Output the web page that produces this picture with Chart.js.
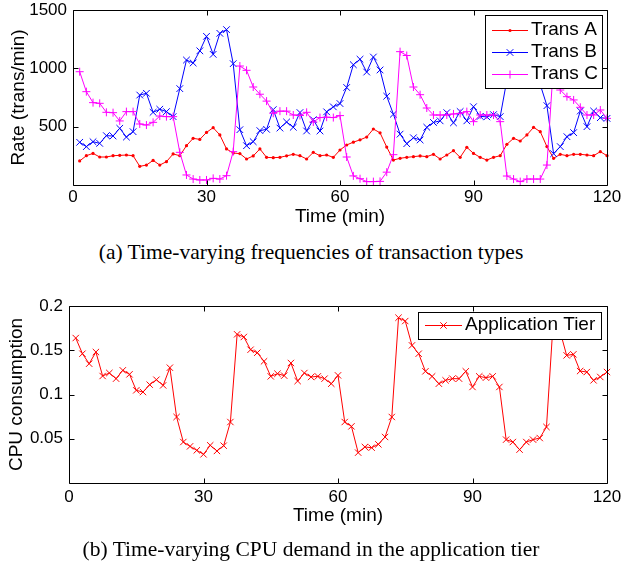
<!DOCTYPE html>
<html><head><meta charset="utf-8">
<script src="https://cdn.jsdelivr.net/npm/chart.js@4/dist/chart.umd.min.js"></script>
<style>
body{margin:0;background:#fff;width:622px;height:568px;position:relative;overflow:hidden;}
canvas{position:absolute;left:0;}
#c1{top:0;}
#c2{top:290px;}
.cap{position:absolute;left:0;width:622px;text-align:center;font-family:"Liberation Serif","Times New Roman",serif;font-size:21.5px;color:#000;line-height:24px;}
</style></head>
<body>
<canvas id="c1" width="622" height="230"></canvas>
<canvas id="c2" width="622" height="250"></canvas>
<div class="cap" id="capA" style="top:240px"></div>
<div class="cap" id="capB" style="top:537px"></div>
<script>
// ---------- data ----------
const timeMin = [1.5,3,4.5,6,7.5,9,10.5,12,13.5,15,16.5,18,19.5,21,22.5,24,25.5,27,28.5,30,31.5,33,34.5,36,37.5,39,40.5,42,43.5,45,46.5,48,49.5,51,52.5,54,55.5,57,58.5,60,61.5,63,64.5,66,67.5,69,70.5,72,73.5,75,76.5,78,79.5,81,82.5,84,85.5,87,88.5,90,91.5,93,94.5,96,97.5,99,100.5,102,103.5,105,106.5,108,109.5,111,112.5,114,115.5,117,118.5,120];
const transA = [206,251,271,240,240,251,254,257,251,160,171,211,171,200,266,251,337,400,391,451,491,429,309,274,269,223,249,309,237,234,237,250,263,251,223,280,251,257,237,300,343,367,387,411,480,447,325,214,229,237,243,249,243,263,223,257,294,237,323,271,237,214,237,251,349,400,377,429,494,457,329,229,263,251,263,263,257,251,286,251];
const transB = [366,329,371,357,423,420,486,411,457,771,786,623,649,629,586,826,1071,1046,1150,1274,1120,1300,1332,1040,474,337,371,466,477,646,488,540,495,621,463,560,463,627,670,698,836,1031,1078,968,1097,986,761,607,436,354,405,386,495,536,550,620,533,630,550,671,588,584,603,586,900,1100,1050,1180,1080,860,680,268,329,414,449,634,500,634,577,571];
const transC = [971,800,706,700,623,620,549,629,629,523,514,537,591,586,586,280,86,51,43,43,57,51,80,286,1020,983,840,778,719,615,633,633,600,596,623,540,578,581,578,595,240,78,54,29,29,31,110,260,1143,1110,840,774,660,600,600,600,609,614,629,543,600,600,600,543,77,51,29,51,51,51,171,1050,814,757,729,666,600,600,643,571];
const appTier = [0.1638,0.1461,0.1348,0.1480,0.1209,0.1243,0.1179,0.1273,0.1228,0.1047,0.1028,0.1111,0.1167,0.1103,0.1303,0.0746,0.0463,0.0414,0.0369,0.0324,0.0426,0.0362,0.0422,0.0689,0.1680,0.1650,0.1506,0.1472,0.1375,0.1205,0.1235,0.1213,0.1356,0.1152,0.1243,0.1198,0.1205,0.1179,0.1122,0.1216,0.0689,0.0640,0.0343,0.0407,0.0399,0.0437,0.0520,0.0746,0.1868,0.1830,0.1555,0.1461,0.1262,0.1205,0.1122,0.1160,0.1179,0.1179,0.1262,0.1085,0.1205,0.1190,0.1205,0.1085,0.0490,0.0463,0.0377,0.0463,0.0490,0.0508,0.0633,0.182,0.172,0.1442,0.1454,0.1265,0.1254,0.1160,0.1198,0.1254];
const seriesNamesA = ['Trans A','Trans B','Trans C'];
const seriesNameB = 'Application Tier';
const xTicks = [0,30,60,90,120];
const xTickLabels = ['0','30','60','90','120'];
const yTicksA = [500,1000,1500];
const yTickLabelsA = ['500','1000','1500'];
const yTicksB = [0.05,0.1,0.15,0.2];
const yTickLabelsB = ['0.05','0.1','0.15','0.2'];
const xTitle = 'Time (min)';
const yTitleA = 'Rate (trans/min)';
const yTitleB = 'CPU consumption';
const captionA = '(a) Time-varying frequencies of transaction types';
const captionB = '(b) Time-varying CPU demand in the application tier';

document.getElementById('capA').textContent = captionA;
document.getElementById('capB').textContent = captionB;

const SANS = '"Liberation Sans", Arial, Helvetica, sans-serif';
const pairs = arr => timeMin.map((t, i) => ({x: t, y: arr[i]}));
const labelFrom = (vals, labels) => (v) => { const i = vals.findIndex(w => Math.abs(w - v) < 1e-9); return i >= 0 ? labels[i] : ''; };

const matlabFrame = {
  id: 'matlabFrame',
  afterDraw(chart, args, opts) {
    const {ctx, chartArea: a, scales: {x, y}} = chart;
    ctx.save();
    ctx.strokeStyle = '#000'; ctx.lineWidth = 1;
    const L = Math.round(a.left) + 0.5, R = Math.round(a.right) + 0.5,
          T = Math.round(a.top) + 0.5, B = Math.round(a.bottom) + 0.5;
    ctx.beginPath();
    ctx.rect(L, T, R - L, B - T);
    const tl = 5;
    x.ticks.forEach(t => {
      const px = Math.round(x.getPixelForValue(t.value)) + 0.5;
      ctx.moveTo(px, B); ctx.lineTo(px, B - tl);
      ctx.moveTo(px, T); ctx.lineTo(px, T + tl);
    });
    y.ticks.forEach(t => {
      const py = Math.round(y.getPixelForValue(t.value)) + 0.5;
      ctx.moveTo(L, py); ctx.lineTo(L + tl, py);
      ctx.moveTo(R, py); ctx.lineTo(R - tl, py);
    });
    ctx.stroke();
    const lg = opts.box;
    if (lg) {
      ctx.fillStyle = '#fff';
      ctx.fillRect(lg.x, lg.y, lg.w, lg.h);
      ctx.strokeStyle = '#000';
      ctx.strokeRect(lg.x + 0.5, lg.y + 0.5, lg.w, lg.h);
      ctx.font = lg.font;
      ctx.textBaseline = 'middle';
      ctx.textAlign = 'left';
      chart.data.datasets.forEach((ds, i) => {
        const yy = lg.row0 + i * lg.rowH;
        ctx.strokeStyle = ds.borderColor; ctx.lineWidth = ds.borderWidth;
        ctx.beginPath(); ctx.moveTo(lg.x0, yy + 0.5); ctx.lineTo(lg.x1, yy + 0.5); ctx.stroke();
        ctx.fillStyle = ds.pointBackgroundColor;
        ctx.strokeStyle = ds.pointBorderColor;
        ctx.lineWidth = ds.pointBorderWidth || 1;
        Chart.helpers.drawPoint(ctx, {pointStyle: ds.pointStyle, radius: ds.pointRadius, rotation: 0, borderWidth: ds.pointBorderWidth}, (lg.x0 + lg.x1) / 2, yy + 0.5);
        ctx.fillStyle = '#000';
        ctx.fillText(ds.label, lg.tx, yy);
      });
    }
    ctx.restore();
  }
};

function xScale(height, tickPad, titlePadBottom) {
  return {
    type: 'linear', min: 0, max: 120,
    afterBuildTicks: s => { s.ticks = xTicks.map(v => ({value: v})); },
    afterFit: s => { s.height = height; s.paddingLeft = 0; s.paddingRight = 0; },
    grid: {display: false, drawTicks: false}, border: {display: false},
    ticks: {color: '#000', font: {family: SANS, size: 17}, padding: tickPad, maxRotation: 0, autoSkip: false,
      callback: labelFrom(xTicks, xTickLabels)},
    title: {display: true, text: xTitle, color: '#000', font: {family: SANS, size: 19}, padding: {top: 0, bottom: titlePadBottom}}
  };
}

new Chart(document.getElementById('c1'), {
  type: 'line',
  data: {datasets: [
    {label: seriesNamesA[0], data: pairs(transA), borderColor: '#ff0000', backgroundColor: '#ff0000', pointBackgroundColor: '#ff0000', pointBorderColor: '#ff0000', borderWidth: 1, pointStyle: 'circle', pointRadius: 1.6, pointBorderWidth: 0, order: 3, clip: false},
    {label: seriesNamesA[1], data: pairs(transB), borderColor: '#0000ff', backgroundColor: '#0000ff', pointBackgroundColor: '#0000ff', pointBorderColor: '#0000ff', borderWidth: 1, pointStyle: 'crossRot', pointRadius: 4.7, pointBorderWidth: 1, order: 2, clip: false},
    {label: seriesNamesA[2], data: pairs(transC), borderColor: '#ff00ff', backgroundColor: '#ff00ff', pointBackgroundColor: '#ff00ff', pointBorderColor: '#ff00ff', borderWidth: 1, pointStyle: 'cross', pointRadius: 4, pointBorderWidth: 1, order: 1, clip: false}
  ]},
  options: {
    responsive: false, animation: false, events: [],
    layout: {padding: {top: 10, right: 15, left: 0, bottom: 0}},
    elements: {line: {tension: 0}},
    plugins: {legend: {display: false}, tooltip: {enabled: false},
      matlabFrame: {box: {x: 485, y: 15, w: 117, h: 73, font: '19px ' + SANS, row0: 30, rowH: 22, x0: 492, x1: 528, tx: 531}}},
    scales: {
      x: xScale(45, 2, 1.6),
      y: {
        min: 0, max: 1500,
        afterBuildTicks: s => { s.ticks = yTicksA.map(v => ({value: v})); },
        afterFit: s => { s.width = 73; s.paddingTop = 0; s.paddingBottom = 0; },
        grid: {display: false, drawTicks: false}, border: {display: false},
        ticks: {color: '#000', font: {family: SANS, size: 17}, padding: 6, callback: labelFrom(yTicksA, yTickLabelsA)},
        title: {display: true, text: yTitleA, color: '#000', font: {family: SANS, size: 19}, padding: {top: 7, bottom: 0}}
      }
    }
  },
  plugins: [matlabFrame]
});

new Chart(document.getElementById('c2'), {
  type: 'line',
  data: {datasets: [
    {label: seriesNameB, data: pairs(appTier), borderColor: '#ff0000', backgroundColor: '#ff0000', pointBackgroundColor: '#ff0000', pointBorderColor: '#ff0000', borderWidth: 1, pointStyle: 'crossRot', pointRadius: 4.5, pointBorderWidth: 1, clip: false}
  ]},
  options: {
    responsive: false, animation: false, events: [],
    layout: {padding: {top: 16, right: 15, left: 0, bottom: 0}},
    elements: {line: {tension: 0}},
    plugins: {legend: {display: false}, tooltip: {enabled: false},
      matlabFrame: {box: {x: 418, y: 22, w: 183, h: 27, font: '19px ' + SANS, row0: 35, rowH: 22, x0: 425, x1: 462, tx: 465}}},
    scales: {
      x: xScale(57, 4, 13.3),
      y: {
        min: 0, max: 0.2,
        afterBuildTicks: s => { s.ticks = yTicksB.map(v => ({value: v})); },
        afterFit: s => { s.width = 69; s.paddingTop = 0; s.paddingBottom = 0; },
        grid: {display: false, drawTicks: false}, border: {display: false},
        ticks: {color: '#000', font: {family: SANS, size: 17}, padding: 6, callback: labelFrom(yTicksB, yTickLabelsB)},
        title: {display: true, text: yTitleB, color: '#000', font: {family: SANS, size: 19}, padding: {top: 5.6, bottom: 0}}
      }
    }
  },
  plugins: [matlabFrame]
});
</script>
</body></html>
